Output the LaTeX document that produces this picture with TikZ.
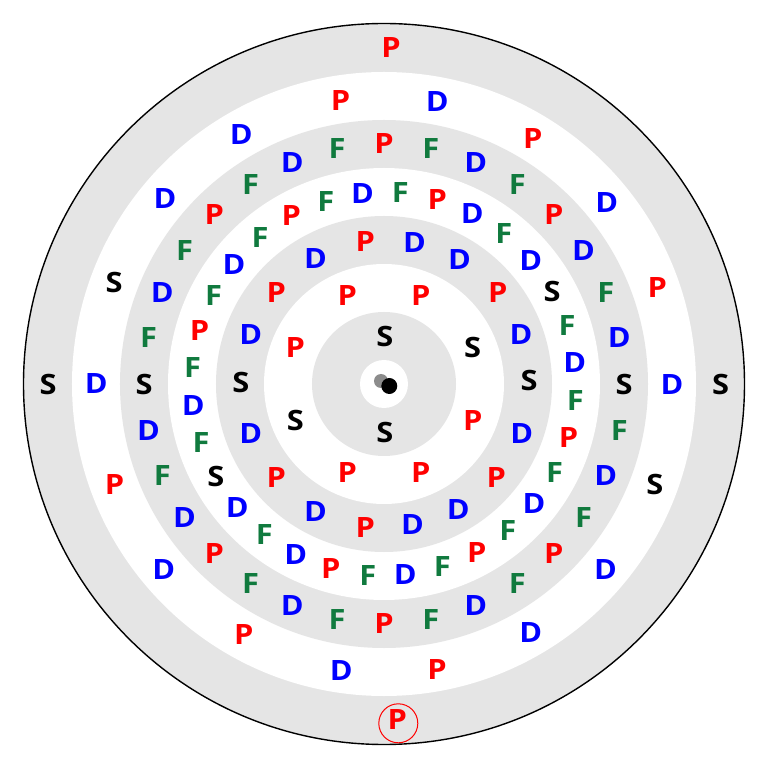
\documentclass[tikz,border=0pt]{standalone}
\usepackage{fontspec}
\setmainfont{Open Sans}
\newfontfamily\letterfam{Open Sans}[FakeStretch=1.1]
\definecolor{ringgray}{RGB}{229,229,229}
\definecolor{pred}{RGB}{255,0,0}
\definecolor{dblue}{RGB}{0,0,255}
\definecolor{fgreen}{RGB}{16,122,62}
\definecolor{dotgray}{RGB}{140,140,140}
\tikzset{
  lt/.style={font=\letterfam\fontsize{28}{28}\selectfont\bfseries, inner sep=0pt},
  lS/.style={lt, text=black},
  lP/.style={lt, text=pred},
  lD/.style={lt, text=dblue},
  lF/.style={lt, text=fgreen},
}
\begin{document}
\begin{tikzpicture}[x=1pt,y=1pt]
\useasboundingbox (-384,-384) rectangle (384,384);
% rings
\fill[ringgray] (0,0) circle (360);
\fill[white] (0,0) circle (312);
\fill[ringgray] (0,0) circle (264);
\fill[white] (0,0) circle (216);
\fill[ringgray] (0,0) circle (168);
\fill[white] (0,0) circle (120);
\fill[ringgray] (0,0) circle (72);
\fill[white] (0,0) circle (24);
\draw[line width=1.4pt] (0,0) circle (360.5);
% nucleus
\fill[dotgray] (-3,3) circle (7);
\fill[black] (5.3,-2) circle (8);
% band 1
\node[lS] (b1-1) at (0.8,47.3) {S};
\node[lS] (b1-2) at (0.8,-48) {S};
% band 2
\foreach \l [count=\i] in {S,P,P,P,S,P,P,P}
  \node[l\l] (b2-\i) at ({22.5+45*(\i-1)}:96) {\l};
% band 3
\foreach \l/\x/\y [count=\i] in {S/145.2/3.2, D/137/49.8, P/113.8/91.8, D/75.5/124.5,
    D/30.5/141.7, P/-18.8/142.3, D/-68.5/125.3, P/-107.8/91.8, D/-133.2/49.8,
    S/-143.2/1.5, D/-133.2/-49.3, P/-107.7/-93.2, D/-68.5/-127.3, P/-18.8/-143.5,
    D/28.5/-141, D/74.3/-125.2, P/112.3/-93.2, D/137.7/-49.3}
  \node[l\l] (b3-\i) at (\x,\y) {\l};
% band 4
\foreach \l [count=\i] in {D,F,S,D,F,D,P,F,D,F,P,F,D,F,P,F,D,F,S,D,F,D,P,F,D,F,P,F,D,F,P,F}
  \node[l\l] (b4-\i) at ({6.4+11.25*(\i-1)}:192) {\l};
% band 5
\foreach \l [count=\i] in {S,D,F,D,P,F,D,F,P,F,D,F,P,F,D,F,S,D,F,D,P,F,D,F,P,F,D,F,P,F,D,F}
  \node[l\l] (b5-\i) at ({11.25*(\i-1)}:240) {\l};
% band 6
\foreach \l/\x/\y [count=\i] in {D/288/-1, P/273.3/96.8, D/222.8/181, P/148.7/245.3,
    D/53.3/282, P/-43.5/283.7, D/-142.8/249.5, D/-219/185.2, S/-269.8/101.8,
    D/-287.7/0, P/-269.5/-100.5, D/-220.2/-185.3, P/-140.3/-250.5, D/-42.7/-286.3,
    P/53/-285.5, D/146.7/-248.8, D/221.5/-185.3, S/270.8/-100.5}
  \node[l\l] (b6-\i) at (\x,\y) {\l};
% band 7
\node[lP] (b7-1) at (7,336.7) {P};
\node[lS] (b7-2) at (336.7,0) {S};
\node[lS] (b7-3) at (-336,0) {S};
\node[lP] (b7-4) at (13.3,-335.3) {P};
\coordinate (ring) at (14.3,-339.3);
\draw[pred, line width=1pt] (ring) circle (19.5);
\end{tikzpicture}
\end{document}
